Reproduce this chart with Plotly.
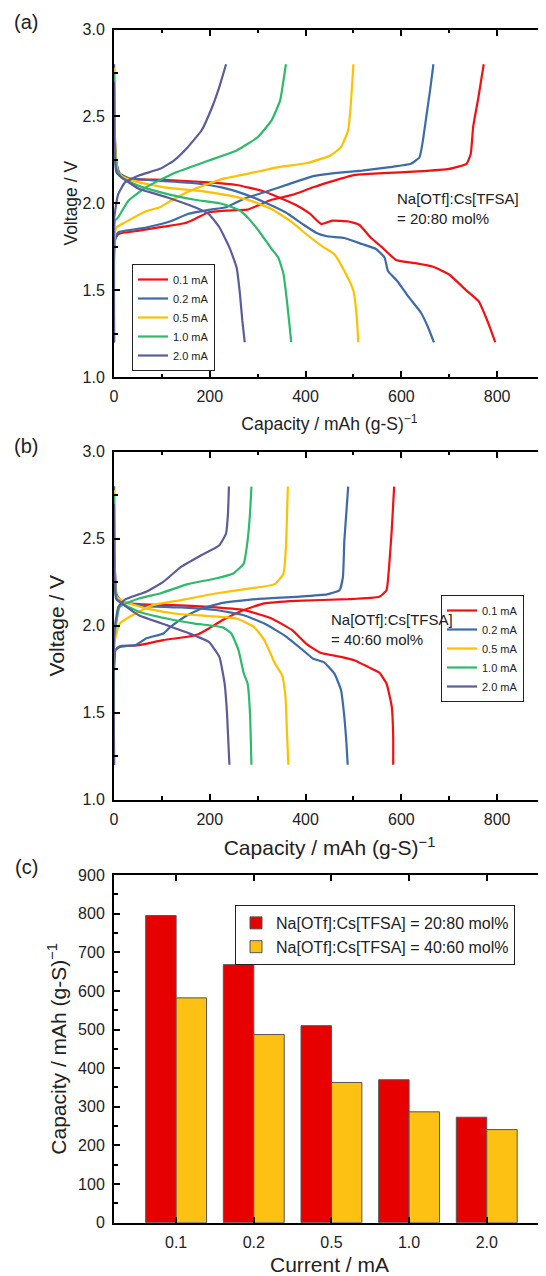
import plotly.graph_objects as go
from plotly.subplots import make_subplots

rates = ['0.1 mA', '0.2 mA', '0.5 mA', '1.0 mA', '2.0 mA']
line_colors = ['#F21010', '#3D6BA8', '#FFC000', '#2DBA6A', '#5B5C9C']

# (a) Na[OTf]:Cs[TFSA] = 20:80 mol% -- discharge / charge curves
a_dis_cap_01 = [0, 1, 3, 6, 12, 30, 103, 198, 256, 307, 343, 380, 409, 433, 456, 490, 512, 537, 558, 589, 630, 665, 700, 735, 762, 776, 787, 796]
a_dis_v_01 = [2.8, 2.5, 2.3, 2.22, 2.17, 2.14, 2.135, 2.12, 2.105, 2.073, 2.035, 1.99, 1.94, 1.88, 1.90, 1.895, 1.876, 1.80, 1.75, 1.674, 1.655, 1.636, 1.59, 1.50, 1.434, 1.348, 1.27, 1.2]
a_chg_cap_01 = [0, 0, 2, 9, 52, 103, 147, 169, 198, 234, 278, 300, 329, 372, 416, 460, 503, 561, 634, 700, 736, 745, 750, 761, 772]
a_chg_v_01 = [1.2, 1.7, 1.79, 1.823, 1.842, 1.865, 1.885, 1.91, 1.948, 1.958, 1.963, 1.987, 2.02, 2.048, 2.092, 2.13, 2.163, 2.173, 2.183, 2.198, 2.227, 2.285, 2.44, 2.61, 2.8]

a_dis_cap_02 = [0, 1, 3, 6, 12, 30, 89, 169, 227, 271, 314, 358, 394, 423, 445, 481, 518, 547, 565, 572, 591, 616, 641, 656, 668]
a_dis_v_02 = [2.8, 2.5, 2.3, 2.22, 2.17, 2.145, 2.13, 2.115, 2.09, 2.054, 2.006, 1.948, 1.88, 1.829, 1.81, 1.80, 1.765, 1.737, 1.688, 1.61, 1.554, 1.458, 1.37, 1.285, 1.2]
a_chg_cap_02 = [0, 0, 3, 9, 67, 118, 154, 198, 234, 271, 314, 365, 416, 460, 518, 576, 620, 638, 645, 652, 660, 667]
a_chg_v_02 = [1.2, 1.7, 1.8, 1.833, 1.86, 1.896, 1.938, 1.962, 1.977, 2.025, 2.063, 2.11, 2.156, 2.173, 2.188, 2.208, 2.227, 2.265, 2.36, 2.496, 2.65, 2.8]

a_dis_cap_05 = [0, 1, 3, 8, 20, 52, 110, 183, 241, 285, 329, 372, 401, 438, 460, 481, 500, 507, 510]
a_dis_v_05 = [2.78, 2.45, 2.3, 2.18, 2.15, 2.12, 2.09, 2.07, 2.044, 2.015, 1.967, 1.89, 1.823, 1.746, 1.707, 1.61, 1.496, 1.34, 1.2]
a_chg_cap_05 = [0, 0, 2, 5, 23, 67, 96, 125, 169, 227, 285, 343, 401, 452, 474, 489, 495, 500]
a_chg_v_05 = [1.2, 1.7, 1.83, 1.86, 1.89, 1.954, 1.977, 2.025, 2.083, 2.14, 2.173, 2.208, 2.23, 2.275, 2.323, 2.42, 2.59, 2.8]

a_dis_cap_10 = [0, 1, 5, 15, 52, 110, 169, 227, 263, 285, 307, 329, 343, 354, 361, 367, 370]
a_dis_v_10 = [2.75, 2.4, 2.2, 2.15, 2.10, 2.054, 2.02, 1.996, 1.958, 1.90, 1.823, 1.737, 1.688, 1.592, 1.44, 1.285, 1.2]
a_chg_cap_10 = [0, 0, 2, 9, 30, 67, 125, 198, 256, 300, 329, 347, 354, 359]
a_chg_v_10 = [1.2, 1.8, 1.9, 1.92, 2.015, 2.092, 2.173, 2.246, 2.304, 2.38, 2.477, 2.592, 2.708, 2.8]

a_dis_cap_20 = [0, 1, 5, 15, 52, 110, 169, 198, 220, 241, 256, 263, 268, 273]
a_dis_v_20 = [2.7, 2.3, 2.18, 2.15, 2.083, 2.035, 1.977, 1.938, 1.862, 1.746, 1.63, 1.477, 1.323, 1.2]
a_chg_cap_20 = [0, 0, 2, 9, 23, 52, 96, 125, 154, 183, 205, 220, 234]
a_chg_v_20 = [1.2, 1.9, 1.95, 2.054, 2.12, 2.16, 2.198, 2.246, 2.323, 2.42, 2.554, 2.67, 2.8]

# (b) Na[OTf]:Cs[TFSA] = 40:60 mol% -- discharge / charge curves
b_dis_cap_01 = [0, 1, 5, 15, 52, 125, 198, 271, 329, 372, 401, 431, 474, 503, 532, 554, 569, 580, 583, 583]
b_dis_v_01 = [2.8, 2.4, 2.18, 2.14, 2.124, 2.118, 2.108, 2.09, 2.041, 1.974, 1.897, 1.844, 1.82, 1.80, 1.76, 1.73, 1.667, 1.533, 1.36, 1.2]
b_chg_cap_01 = [0, 0, 3, 12, 52, 103, 154, 176, 198, 227, 271, 314, 380, 489, 554, 569, 575, 580, 585]
b_chg_v_01 = [1.2, 1.75, 1.86, 1.878, 1.888, 1.917, 1.936, 1.951, 1.984, 2.032, 2.09, 2.128, 2.143, 2.152, 2.166, 2.204, 2.358, 2.55, 2.8]

b_dis_cap_02 = [0, 1, 5, 15, 67, 140, 212, 271, 314, 358, 394, 416, 438, 460, 474, 481, 485, 488]
b_dis_v_02 = [2.8, 2.4, 2.18, 2.14, 2.112, 2.105, 2.09, 2.06, 2.012, 1.94, 1.86, 1.81, 1.79, 1.725, 1.63, 1.476, 1.34, 1.2]
b_chg_cap_02 = [0, 0, 3, 12, 45, 67, 103, 118, 147, 183, 227, 285, 380, 445, 471, 478, 481, 489]
b_chg_v_02 = [1.2, 1.75, 1.86, 1.882, 1.888, 1.926, 1.955, 1.993, 2.05, 2.099, 2.131, 2.15, 2.166, 2.18, 2.204, 2.28, 2.49, 2.8]

b_dis_cap_05 = [0, 1, 5, 20, 67, 125, 198, 256, 292, 314, 336, 351, 358, 361, 364]
b_dis_v_05 = [2.78, 2.35, 2.17, 2.14, 2.099, 2.07, 2.055, 2.041, 1.993, 1.917, 1.782, 1.715, 1.59, 1.40, 1.2]
b_chg_cap_05 = [0, 0, 3, 12, 38, 81, 140, 212, 285, 336, 354, 359, 363]
b_chg_v_05 = [1.2, 1.85, 1.93, 2.012, 2.06, 2.118, 2.147, 2.185, 2.214, 2.239, 2.30, 2.453, 2.8]

b_dis_cap_10 = [0, 1, 5, 15, 52, 110, 169, 227, 245, 260, 271, 279, 284, 287]
b_dis_v_10 = [2.75, 2.3, 2.16, 2.13, 2.08, 2.041, 2.012, 1.99, 1.955, 1.859, 1.725, 1.667, 1.495, 1.2]
b_chg_cap_10 = [0, 0, 3, 12, 52, 96, 154, 212, 249, 271, 279, 284, 287]
b_chg_v_10 = [1.2, 1.9, 1.98, 2.108, 2.156, 2.185, 2.239, 2.271, 2.30, 2.358, 2.49, 2.645, 2.8]

b_dis_cap_20 = [0, 1, 5, 15, 52, 110, 154, 198, 220, 231, 236, 241]
b_dis_v_20 = [2.7, 2.25, 2.15, 2.13, 2.06, 2.003, 1.959, 1.907, 1.82, 1.667, 1.495, 1.2]
b_chg_cap_20 = [0, 0, 3, 9, 23, 67, 103, 140, 183, 220, 234, 238, 240]
b_chg_v_20 = [1.2, 1.95, 2.02, 2.108, 2.15, 2.195, 2.252, 2.338, 2.406, 2.463, 2.53, 2.645, 2.8]

# (c) discharge capacity vs current
currents = ['0.1', '0.2', '0.5', '1.0', '2.0']
cap_2080 = [795, 668, 510, 370, 273]
cap_4060 = [582, 487, 363, 287, 241]

a_curves = [(a_dis_cap_01, a_dis_v_01, a_chg_cap_01, a_chg_v_01),
            (a_dis_cap_02, a_dis_v_02, a_chg_cap_02, a_chg_v_02),
            (a_dis_cap_05, a_dis_v_05, a_chg_cap_05, a_chg_v_05),
            (a_dis_cap_10, a_dis_v_10, a_chg_cap_10, a_chg_v_10),
            (a_dis_cap_20, a_dis_v_20, a_chg_cap_20, a_chg_v_20)]
b_curves = [(b_dis_cap_01, b_dis_v_01, b_chg_cap_01, b_chg_v_01),
            (b_dis_cap_02, b_dis_v_02, b_chg_cap_02, b_chg_v_02),
            (b_dis_cap_05, b_dis_v_05, b_chg_cap_05, b_chg_v_05),
            (b_dis_cap_10, b_dis_v_10, b_chg_cap_10, b_chg_v_10),
            (b_dis_cap_20, b_dis_v_20, b_chg_cap_20, b_chg_v_20)]

FONT = 'Arial, Liberation Sans, sans-serif'
W, H = 546, 1276
OFF = 8  # page body margin


def px(x):
    return (x - OFF) / W


def py(y):
    return 1 - (y - OFF) / H


fig = make_subplots(rows=3, cols=1)

for row, curves, leg in [(1, a_curves, 'legend'), (2, b_curves, 'legend2')]:
    for name, color, (dc, dv, cc, cv) in zip(rates, line_colors, curves):
        fig.add_trace(go.Scatter(
            x=dc + [None] + cc, y=dv + [None] + cv, mode='lines', name=name,
            line=dict(color=color, width=2.2, shape='spline', smoothing=0.4),
            connectgaps=False, legend=leg), row=row, col=1)

fig.add_trace(go.Bar(x=currents, y=cap_2080, name='Na[OTf]:Cs[TFSA] = 20:80 mol%',
                     marker=dict(color='#E60000', line=dict(color='#555555', width=1)),
                     legend='legend3'), row=3, col=1)
fig.add_trace(go.Bar(x=currents, y=cap_4060, name='Na[OTf]:Cs[TFSA] = 40:60 mol%',
                     marker=dict(color='#FDC113', line=dict(color='#555555', width=1)),
                     legend='legend3'), row=3, col=1)

ax = dict(showline=True, linecolor='black', linewidth=2, mirror='ticks',
          ticks='inside', ticklen=6, tickwidth=1.5, tickcolor='black',
          showgrid=False, zeroline=False, tickfont=dict(size=16, color='#222'),
          ticklabelstandoff=4)
cap_title = 'Capacity / mAh (g-S)<sup>\u22121</sup>'

xd = [px(114), px(545)]
doms = [[py(377), py(29.5)], [py(799.5), py(451.8)], [py(1222.7), py(875)]]

fig.update_xaxes(ax)
fig.update_yaxes(ax)
for r in (1, 2):
    fig.update_xaxes(range=[0, 900], dtick=200, domain=xd,
                     minor=dict(ticks='inside', ticklen=3.5, tickwidth=1.5, tickcolor='black', dtick=100),
                     row=r, col=1)
    fig.update_yaxes(range=[1.0, 3.0], dtick=0.5, tickformat='.1f', domain=doms[r - 1],
                     minor=dict(ticks='inside', ticklen=3.5, tickwidth=1.5, tickcolor='black', dtick=0.25),
                     row=r, col=1)
fig.update_xaxes(title=dict(text=cap_title, font=dict(size=17.5), standoff=14), row=1, col=1)
fig.update_yaxes(title=dict(text='Voltage / V', font=dict(size=17.5), standoff=0), row=1, col=1)
fig.update_xaxes(title=dict(text=cap_title, font=dict(size=21), standoff=14), row=2, col=1)
fig.update_yaxes(title=dict(text='Voltage / V', font=dict(size=21), standoff=12), row=2, col=1)

fig.update_xaxes(type='category', range=[-0.8, 4.75], domain=xd,
                 title=dict(text='Current / mA', font=dict(size=21), standoff=7), row=3, col=1)
fig.update_yaxes(range=[0, 900], dtick=100, domain=doms[2],
                 minor=dict(ticks='inside', ticklen=3.5, tickwidth=1.5, tickcolor='black', dtick=50),
                 title=dict(text=cap_title, font=dict(size=21), standoff=6), row=3, col=1)

leg_common = dict(yanchor='top', bordercolor='#222', borderwidth=1,
                  bgcolor='white', itemwidth=30, tracegroupgap=0)
fig.update_layout(
    width=W, height=H, margin=dict(l=0, r=0, t=0, b=0, autoexpand=False),
    paper_bgcolor='white', plot_bgcolor='white',
    font=dict(family=FONT, color='#222'),
    barmode='group', bargap=0.216, bargroupgap=0,
    legend=dict(x=px(132), y=py(264), xanchor='left', font=dict(size=11), **leg_common),
    legend2=dict(x=px(524), y=py(595), xanchor='right', font=dict(size=11), **leg_common),
    legend3=dict(x=px(235), y=py(905), xanchor='left', font=dict(size=16), **leg_common),
)

notes = [('(a)', 26, 22), ('(b)', 26, 446), ('(c)', 26, 867)]
for t, x, y in notes:
    fig.add_annotation(text=t, x=px(x), y=py(y), xref='paper', yref='paper',
                       xanchor='center', yanchor='middle', showarrow=False, font=dict(size=20))
fig.add_annotation(text='Na[OTf]:Cs[TFSA]<br>= 20:80 mol%', x=px(395), y=py(208),
                   xref='paper', yref='paper', xanchor='left', yanchor='middle', align='left',
                   showarrow=False, font=dict(size=15))
fig.add_annotation(text='Na[OTf]:Cs[TFSA]<br>= 40:60 mol%', x=px(329), y=py(630),
                   xref='paper', yref='paper', xanchor='left', yanchor='middle', align='left',
                   showarrow=False, font=dict(size=15))

fig.write_html('out.html')
